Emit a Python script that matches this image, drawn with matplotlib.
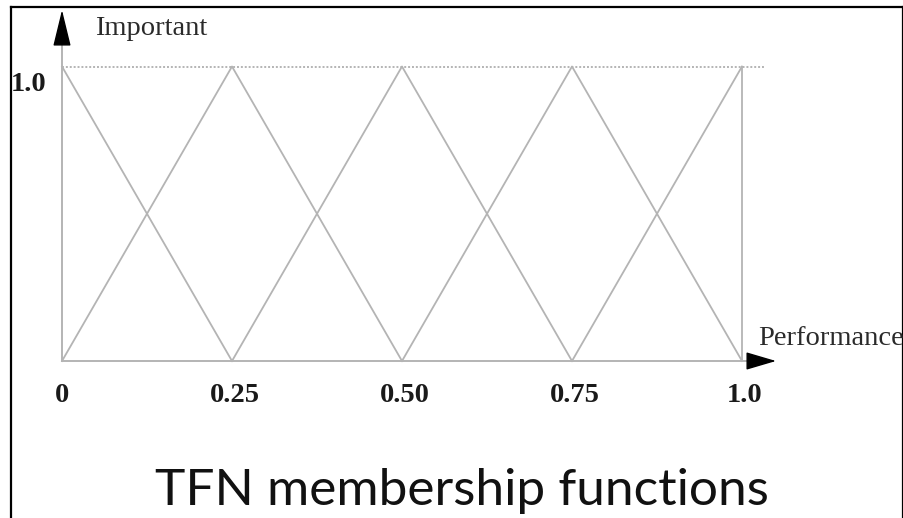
import matplotlib.pyplot as plt
from matplotlib.lines import Line2D

# triangular fuzzy numbers (a, b, c) on the performance scale
tfn = [(0.0, 0.0, 0.25), (0.0, 0.25, 0.5), (0.25, 0.5, 0.75),
       (0.5, 0.75, 1.0), (0.75, 1.0, 1.0)]
tick_values = [0, 0.25, 0.5, 0.75, 1.0]
tick_labels = ['0', '0.25', '0.50', '0.75', '1.0']

W, H = 904, 518
fig = plt.figure(figsize=(W / 100, H / 100), dpi=100)
ax = fig.add_axes([0, 0, 1, 1])
ax.axis('off')

# pixel mapping: x=0 -> 62px, x=1 -> 742px ; y=0 -> 361px, y=1 -> 66.5px (from top)
sx = 680.0
sy = 294.5
ax.set_xlim(-62 / sx, (W - 62) / sx)
ax.set_ylim(-(H - 361) / sy, 361 / sy)

gray = '#b4b4b4'
serif = 'Liberation Serif'

for a, b, c in tfn:
    ya = 0 if a < b else 1
    yc = 0 if c > b else 1
    ax.plot([a, b, c], [ya, 1, yc], color=gray, lw=1.3)

# right edge and dotted top line
ax.plot([1, 1], [0, 1], color=gray, lw=1.3)
ax.plot([0, (765 - 62) / sx], [1, 1], color=gray, lw=1.4, ls=(0, (1, 1)))

# axes with black arrowheads
x_base, x_tip = (756 - 62) / sx, (776 - 62) / sx
y_base, y_tip = (361 - 34) / sy, (361 - 10) / sy
ax.plot([0, x_base], [0, 0], color=gray, lw=1.4)
ax.plot([0, 0], [0, y_base], color=gray, lw=1.4)
ax.annotate('', xy=(x_tip, 0), xytext=(x_base, 0),
            arrowprops=dict(arrowstyle='-|>,head_length=0.95,head_width=0.28',
                            color='black', lw=1, shrinkA=0, shrinkB=0, mutation_scale=20))
ax.annotate('', xy=(0, y_tip), xytext=(0, y_base),
            arrowprops=dict(arrowstyle='-|>,head_length=1.15,head_width=0.28',
                            color='black', lw=1, shrinkA=0, shrinkB=0, mutation_scale=20))


def px(x, y):
    return x / W, 1 - y / H


# tick labels
for v, lab in zip(tick_values, tick_labels):
    xp = 62 + v * sx + (3 if v > 0 else 0)
    fig.text(*px(xp, 402), lab, ha='center', va='baseline', fontsize=20.5,
             fontweight='bold', family=serif, color='#1a1a1a')

fig.text(*px(11, 91), '1.0', ha='left', va='baseline', fontsize=20.5,
         fontweight='bold', family=serif, color='#1a1a1a')
fig.text(*px(95, 35), 'Important', ha='left', va='baseline', fontsize=20.5,
         family=serif, color='#2a2a2a')
fig.text(*px(758, 345), 'Performance', ha='left', va='baseline', fontsize=20.5,
         family=serif, color='#2a2a2a')

fig.text(*px(462, 505), 'TFN membership functions', ha='center', va='baseline',
         fontsize=37, family='Lato', color='#111111')

# black frame around the picture
for (x0, y0), (x1, y1) in [((11, 7), (11, H)), ((11, 7), (903, 7)), ((903, 7), (903, H))]:
    fig.add_artist(Line2D([x0 / W, x1 / W], [1 - y0 / H, 1 - y1 / H],
                          color='black', lw=1.6, transform=fig.transFigure))

fig.savefig('out.png', dpi=100)
